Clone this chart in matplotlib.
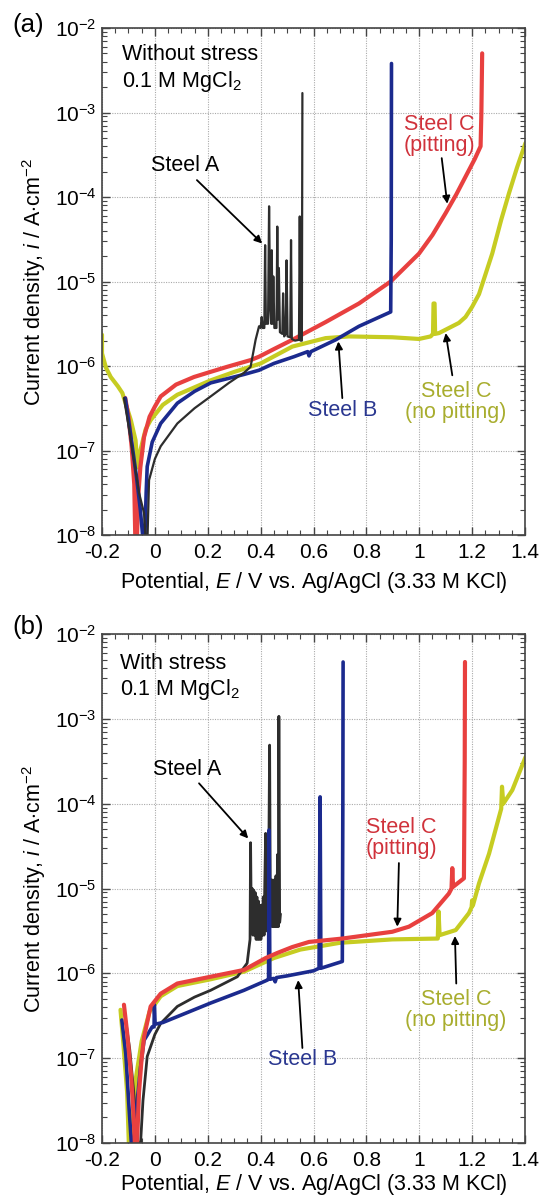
import numpy as np
import matplotlib
matplotlib.use("Agg")
import matplotlib.pyplot as plt
from matplotlib.ticker import FixedLocator, LogLocator, NullFormatter, MultipleLocator

plt.rcParams['font.family'] = ['Liberation Sans', 'DejaVu Sans']
plt.rcParams['mathtext.fontset'] = 'custom'
plt.rcParams['mathtext.rm'] = 'Liberation Sans'
plt.rcParams['mathtext.it'] = 'Liberation Sans:italic'
plt.rcParams['mathtext.bf'] = 'Liberation Sans:bold'

# ---------------- data: panel (a) without stress (E in V, log10 i) ----------------
a_red_E = [-0.112, -0.1, -0.088, -0.078, -0.074, -0.068, -0.062, -0.055, -0.041, -0.02, 0.0, 0.022,
           0.08, 0.148, 0.21, 0.273, 0.362, 0.394, 0.45, 0.52, 0.646, 0.772, 0.892, 0.999, 1.05,
           1.10, 1.14, 1.175, 1.21, 1.232, 1.235, 1.238]
a_red_logi = [-6.38, -6.6, -6.95, -7.4, -8.05, -8.05, -7.5, -7.2, -6.84, -6.6, -6.48, -6.36,
              -6.22, -6.13, -6.07, -6.01, -5.93, -5.89, -5.8, -5.69, -5.48, -5.26, -5.0, -4.67, -4.45,
              -4.19, -3.97, -3.76, -3.55, -3.40, -3.0, -2.30]

a_blue_E = [-0.112, -0.09, -0.07, -0.055, -0.045, -0.038, -0.033, -0.029, -0.01, 0.022, 0.085, 0.15,
            0.211, 0.337, 0.394, 0.45, 0.526, 0.578, 0.583, 0.59, 0.684, 0.772, 0.892, 0.894, 0.895]
a_blue_logi = [-6.38, -6.85, -7.3, -7.7, -8.05, -8.05, -7.5, -7.19, -6.9, -6.68, -6.44, -6.3,
               -6.2, -6.1, -6.05, -5.97, -5.89, -5.83, -5.88, -5.83, -5.69, -5.53, -5.36, -4.5, -2.42]

a_yel_E = [-0.2, -0.2, -0.185, -0.167, -0.14, -0.123, -0.105, -0.091, -0.073, -0.066, -0.06, -0.055,
           -0.035, -0.016, 0.03, 0.085, 0.211, 0.3, 0.4, 0.52, 0.646, 0.734, 0.898, 0.999, 1.043,
           1.052, 1.054, 1.058, 1.06, 1.075, 1.15, 1.175, 1.2, 1.226, 1.25, 1.276, 1.31, 1.339,
           1.37, 1.402]
a_yel_logi = [-5.63, -5.85, -6.02, -6.13, -6.24, -6.32, -6.5, -6.64, -6.88, -7.2, -7.2, -7.0,
              -6.75, -6.64, -6.46, -6.34, -6.17, -6.07, -5.97, -5.77, -5.67, -5.65, -5.66, -5.68, -5.65,
              -5.62, -5.26, -5.26, -5.62, -5.61, -5.49, -5.42, -5.3, -5.15, -4.92, -4.67, -4.27, -3.96,
              -3.65, -3.36]

a_blk_E = [-0.117, -0.1, -0.08, -0.06, -0.041, -0.035, -0.028, -0.022, 0.0, 0.022, 0.085, 0.15,
           0.211, 0.28, 0.337, 0.362, 0.381, 0.394, 0.400, 0.404, 0.408, 0.414, 0.417, 0.420,
           0.428, 0.432, 0.436, 0.440, 0.442, 0.445, 0.448, 0.452, 0.460, 0.463, 0.466, 0.469,
           0.473, 0.482, 0.485, 0.489, 0.495, 0.498, 0.502, 0.512, 0.515, 0.518, 0.530, 0.545,
           0.548, 0.551, 0.556, 0.558]
a_blk_logi = [-6.38, -6.7, -7.1, -7.5, -7.74, -8.05, -8.05, -7.35, -7.1, -6.95, -6.68, -6.5,
              -6.36, -6.2, -6.08, -6.01, -5.69, -5.53, -5.55, -5.42, -5.55, -5.55, -4.57, -5.5,
              -5.5, -4.11, -5.3, -5.5, -4.63, -5.5, -4.94, -5.55, -5.55, -4.35, -5.45, -4.84,
              -5.6, -5.62, -5.14, -5.65, -5.62, -4.75, -5.65, -5.66, -4.51, -5.68, -5.7, -5.69,
              -4.23, -5.7, -5.7, -2.77]

# ---------------- data: panel (b) with stress ----------------
b_red_E = [-0.117, -0.105, -0.09, -0.08, -0.075, -0.068, -0.06, -0.05, -0.041, -0.016, 0.022, 0.085,
           0.211, 0.337, 0.419, 0.463, 0.52, 0.583, 0.709, 0.898, 0.961, 1.049, 1.112, 1.122, 1.125,
           1.128, 1.169, 1.172, 1.173]
b_red_logi = [-6.37, -6.7, -7.2, -7.7, -8.05, -8.05, -7.4, -7.0, -6.75, -6.39, -6.24, -6.12,
              -6.04, -5.96, -5.82, -5.76, -5.69, -5.63, -5.59, -5.51, -5.45, -5.29, -5.06, -5.0, -4.76,
              -4.98, -4.88, -3.5, -2.33]

b_blue_E = [-0.125, -0.11, -0.098, -0.088, -0.08, -0.07, -0.054, -0.041, -0.01, -0.003, -0.002, 0.001,
            0.03, 0.085, 0.211, 0.337, 0.425, 0.430, 0.432, 0.435, 0.45, 0.455, 0.46, 0.5, 0.6, 0.621,
            0.625, 0.628, 0.709, 0.711, 0.712]
b_blue_logi = [-6.55, -6.95, -7.57, -8.05, -8.05, -7.6, -7.1, -6.79, -6.63, -6.63, -6.37, -6.6,
               -6.58, -6.51, -6.35, -6.2, -6.08, -6.07, -4.31, -6.07, -6.06, -6.1, -6.05, -6.03, -5.97,
               -5.94, -3.92, -5.94, -5.86, -4.0, -2.33]

b_yel_E = [-0.13, -0.12, -0.105, -0.098, -0.09, -0.075, -0.05, -0.02, 0.022, 0.085, 0.211, 0.337,
           0.45, 0.55, 0.7, 0.898, 1.07, 1.073, 1.077, 1.138, 1.188, 1.198, 1.2, 1.203, 1.226, 1.264,
           1.31, 1.313, 1.318, 1.352, 1.402]
b_yel_logi = [-6.43, -6.8, -7.4, -8.05, -8.05, -7.3, -6.8, -6.45, -6.27, -6.15, -6.07, -5.98,
              -5.82, -5.72, -5.64, -5.6, -5.59, -5.27, -5.55, -5.49, -5.29, -5.22, -5.14, -5.2, -4.94,
              -4.59, -4.06, -3.8, -4.0, -3.84, -3.45]

b_blk_E = [-0.115, -0.095, -0.08, -0.068, -0.062, -0.055, -0.045, -0.029, 0.0, 0.022, 0.085, 0.15,
           0.211, 0.312, 0.349, 0.360, 0.362, 0.365, 0.368, 0.371, 0.374, 0.377, 0.380, 0.383, 0.386,
           0.389, 0.392, 0.395, 0.398, 0.401, 0.404, 0.407, 0.410, 0.413, 0.416, 0.419, 0.422, 0.425,
           0.428, 0.431, 0.434, 0.437, 0.440, 0.443, 0.446, 0.449, 0.452, 0.455, 0.458, 0.461, 0.464,
           0.467, 0.469, 0.472, 0.475]
b_blk_logi = [-6.45, -6.9, -7.4, -7.9, -8.05, -8.05, -7.5, -6.98, -6.72, -6.59, -6.39, -6.28,
              -6.2, -6.04, -5.88, -5.6, -4.46, -5.5, -5.0, -5.55, -5.02, -5.55, -5.05, -5.6, -5.1,
              -5.6, -5.15, -5.6, -5.2, -5.6, -5.2, -5.55, -5.1, -5.55, -4.9, -4.35, -5.5, -4.9,
              -5.45, -4.6, -3.31, -5.4, -4.9, -5.45, -4.9, -5.45, -4.9, -5.45, -4.85, -5.45, -4.6,
              -5.45, -2.97, -5.4, -5.3]

x_ticks = [-0.2, 0, 0.2, 0.4, 0.6, 0.8, 1.0, 1.2, 1.4]
x_ticklabels = ['-0.2', '0', '0.2', '0.4', '0.6', '0.8', '1', '1.2', '1.4']
y_exps = [-8, -7, -6, -5, -4, -3, -2]

RED, BLUE, YEL, BLK = '#E8403F', '#1B2A8E', '#C6CC22', '#2d2d2d'
TRED, TBLUE, TYEL = '#D0323B', '#2A3790', '#A8AD2E'

FS_TICK = 15
FS_LAB = 15.5
FS_ANN = 15.5

fig = plt.figure(figsize=(5.43, 12), dpi=100)
ax_a = fig.add_axes([102/543, (1200-535)/1200, 423/543, 507/1200])
ax_b = fig.add_axes([102/543, (1200-1143)/1200, 423/543, 509/1200])


def style(ax, xlab_y):
    ax.set_yscale('log')
    ax.set_xlim(-0.2, 1.4)
    ax.set_ylim(1e-8, 1e-2)
    ax.xaxis.set_major_locator(FixedLocator(x_ticks))
    ax.set_xticklabels(x_ticklabels)
    ax.xaxis.set_minor_locator(MultipleLocator(0.05))
    ax.yaxis.set_major_locator(FixedLocator([10.0**e for e in y_exps]))
    ax.set_yticklabels([r'$10^{%d}$' % e for e in y_exps])
    ax.yaxis.set_minor_locator(LogLocator(base=10, subs=np.arange(2, 10), numticks=20))
    ax.yaxis.set_minor_formatter(NullFormatter())
    ax.tick_params(which='both', direction='in', top=True, right=True, labelsize=FS_TICK,
                   color='#444444')
    ax.tick_params(which='major', length=6, width=1)
    ax.tick_params(which='minor', length=3.5, width=0.8)
    ax.tick_params(axis='x', pad=6)
    ax.tick_params(axis='y', pad=4)
    ax.grid(True, which='major', linestyle=(0, (1, 1.2)), color='#aaaaaa', linewidth=0.8)
    ax.set_axisbelow(True)
    for s in ax.spines.values():
        s.set_color('#444444')
        s.set_linewidth(1.2)
    ax.set_xlabel(r'Potential, $\mathit{E}$ / V vs. Ag/AgCl (3.33 M KCl)', fontsize=FS_LAB)
    ax.set_ylabel(r'Current density, $\mathit{i}$ / A$\cdot$cm$^{-2}$', fontsize=FS_LAB)
    ax.xaxis.set_label_coords(0.5, xlab_y)
    ax.yaxis.set_label_coords(-0.128, 0.5)


def curves(ax, data):
    for E, lg, c, lw in data:
        ax.plot(E, np.power(10.0, lg), color=c, lw=lw, solid_joinstyle='round',
                solid_capstyle='round')


def arrow(ax, tail, tip):
    ax.annotate('', xy=(tip[0], 10**tip[1]), xytext=(tail[0], 10**tail[1]),
                arrowprops=dict(arrowstyle='-|>', color='black', lw=1.3,
                                mutation_scale=11, shrinkA=0, shrinkB=0))


style(ax_a, -0.07)
style(ax_b, -0.056)

curves(ax_a, [(a_yel_E, a_yel_logi, YEL, 3.0), (a_red_E, a_red_logi, RED, 3.0),
              (a_blue_E, a_blue_logi, BLUE, 2.6), (a_blk_E, a_blk_logi, BLK, 1.6)])
curves(ax_b, [(b_yel_E, b_yel_logi, YEL, 3.0), (b_blk_E, b_blk_logi, BLK, 2.0),
              (b_blue_E, b_blue_logi, BLUE, 2.6), (b_red_E, b_red_logi, RED, 3.0)])

# panel (a) annotations
ax_a.text(0.047, 0.968, 'Without stress\n0.1 M MgCl$_2$', transform=ax_a.transAxes,
          ha='left', va='top', fontsize=FS_ANN, linespacing=1.2)
ax_a.text(0.114, 10**-3.63, 'Steel A', fontsize=FS_ANN, ha='center', va='center')
arrow(ax_a, (0.159, -3.80), (0.406, -4.55))
ax_a.text(1.075, 10**-3.27, 'Steel C\n(pitting)', fontsize=FS_ANN, ha='center', va='center',
          color=TRED, linespacing=1.0)
arrow(ax_a, (1.085, -3.54), (1.106, -4.08))
ax_a.text(0.711, 10**-6.53, 'Steel B', fontsize=FS_ANN, ha='center', va='center', color=TBLUE)
arrow(ax_a, (0.709, -6.38), (0.694, -5.71))
ax_a.text(1.139, 10**-6.43, 'Steel C\n(no pitting)', fontsize=FS_ANN, ha='center', va='center',
          color=TYEL, linespacing=1.0)
arrow(ax_a, (1.125, -6.11), (1.1, -5.61))

# panel (b) annotations
ax_b.text(0.042, 0.963, 'With stress\n0.1 M MgCl$_2$', transform=ax_b.transAxes,
          ha='left', va='top', fontsize=FS_ANN, linespacing=1.2)
ax_b.text(0.121, 10**-3.6, 'Steel A', fontsize=FS_ANN, ha='center', va='center')
arrow(ax_b, (0.167, -3.76), (0.353, -4.41))
ax_b.text(0.931, 10**-4.40, 'Steel C\n(pitting)', fontsize=FS_ANN, ha='center', va='center',
          color=TRED, linespacing=1.0)
arrow(ax_b, (0.923, -4.70), (0.917, -5.45))
ax_b.text(0.56, 10**-7.02, 'Steel B', fontsize=FS_ANN, ha='center', va='center', color=TBLUE)
arrow(ax_b, (0.558, -6.88), (0.542, -6.08))
ax_b.text(1.139, 10**-6.43, 'Steel C\n(no pitting)', fontsize=FS_ANN, ha='center', va='center',
          color=TYEL, linespacing=1.0)
arrow(ax_b, (1.14, -6.12), (1.135, -5.56))

fig.text(12/543, 1 - 13/1200, '(a)', fontsize=18.5, ha='left', va='top')
fig.text(12/543, 1 - 615/1200, '(b)', fontsize=18.5, ha='left', va='top')

fig.savefig('out.png', dpi=100)
